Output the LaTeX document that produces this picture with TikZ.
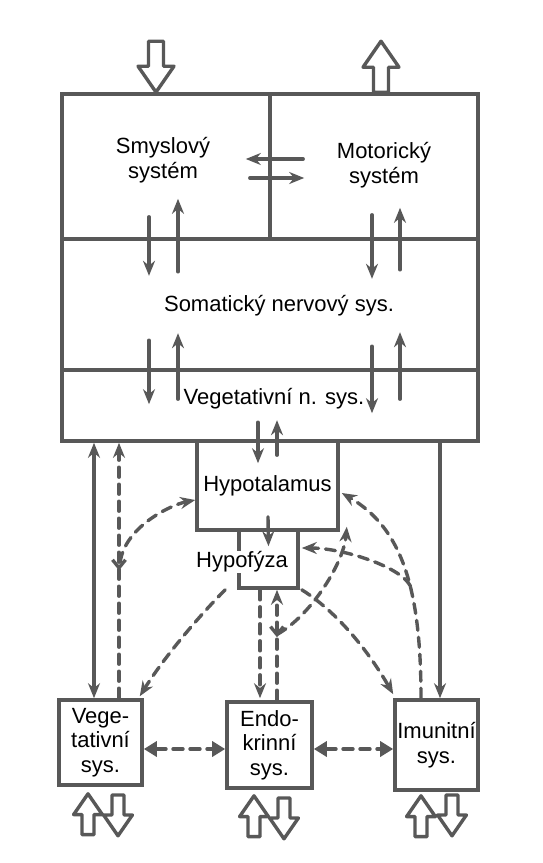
\documentclass[tikz,border=0pt]{standalone}
\usepackage{fontspec}
\setmainfont{Liberation Sans}
\usetikzlibrary{arrows.meta,decorations.markings}
\definecolor{pen}{RGB}{88,88,88}
\tikzset{
  fatdn/.pic={\path[fatn] (0,0) -- (-18,-26) -- (-7.5,-26) -- (-7.5,-51) -- (7.5,-51) -- (7.5,-26) -- (18,-26) -- cycle;},
  fatup/.pic={\path[fatn] (0,0) -- (-18,26) -- (-7.5,26) -- (-7.5,51) -- (7.5,51) -- (7.5,26) -- (18,26) -- cycle;},
  midv/.style={postaction={decorate},decoration={markings,
    mark=at position #1 with {\arrowreversed{Straight Barb[length=8pt,width=13pt]}}}}
}

\begin{document}
\begin{tikzpicture}[x=1pt,y=-1pt]%
  \tikzstyle{every node}=[font=\fontsize{22}{24.5}\selectfont,align=center]
  \tikzstyle{boxn}=[rectangle,draw=pen,line width=3.6pt,inner sep=0]
  \tikzstyle{txtn}=[rectangle,inner sep=1pt]
  \tikzstyle{arrn}=[pen,line width=3.4pt,line cap=round,line join=round,-{Stealth[length=15pt,width=12pt]}]
  \tikzstyle{dshn}=[arrn,dash pattern=on 10pt off 7pt]
  \tikzstyle{twoh}=[{Triangle[length=13pt,width=15pt]}-{Triangle[length=13pt,width=15pt]}]
  \tikzstyle{fatn}=[draw=pen,fill=white,line width=3.4pt,line join=round]
  \useasboundingbox (0,0) rectangle (543,863);
  % nervova soustava
  \node(smysl)[boxn,minimum width=208pt,minimum height=145pt] at (166,166.5) {};
  \node(motor)[boxn,minimum width=208pt,minimum height=145pt] at (374,166.5) {};
  \node(somat)[boxn,minimum width=416pt,minimum height=131pt] at (270,304.5) {};
  \node(veget)[boxn,minimum width=416pt,minimum height=71pt] at (270,405.5) {};
  \node(hypot)[boxn,minimum width=141pt,minimum height=89pt] at (267.5,485.5) {Hypotalamus};
  \node(hypof)[boxn,minimum width=59pt,minimum height=58pt] at (268.5,559) {};
  \node(vegs)[boxn,minimum width=83pt,minimum height=85pt] at (100.5,742.5) {Vege-\\tativní\\sys.};
  \node(endo)[boxn,minimum width=85pt,minimum height=86pt] at (269.5,745) {Endo-\\krinní\\sys.};
  \node(imun)[boxn,minimum width=83pt,minimum height=90pt] at (436.5,745) {Imunitní\\sys.};
  \node(tsmysl)[txtn] at (163,160) {Smyslový\\systém};
  \node(tmotor)[txtn] at (384,165) {Motorický\\systém};
  \node(tsomat)[txtn] at (279,306) {Somatický nervový sys.};
  \node(tveget)[txtn] at (274,399) {Vegetativní n. sys.};
  \node(thypof)[txtn,fill=white] at (242,562) {Hypofýza};
  % plne sipky
  \draw[arrn] ([shift={(35,-7.5)}]motor.west) -- ([shift={(-26,-7.5)}]smysl.east);
  \draw[arrn] ([shift={(-22,11.5)}]smysl.east) -- ([shift={(36,11.5)}]motor.west);
  \draw[arrn] ([shift={(-17,-24)}]smysl.south) -- ([shift={(-17,35)}]smysl.south);
  \draw[arrn] ([shift={(12,31)}]smysl.south) -- ([shift={(12,-42)}]smysl.south);
  \draw[arrn] ([shift={(-2,-26)}]motor.south) -- ([shift={(-2,38)}]motor.south);
  \draw[arrn] ([shift={(26,29)}]motor.south) -- ([shift={(26,-33)}]motor.south);
  \draw[arrn] ([shift={(-121,-28)}]veget.north) -- ([shift={(-121,36)}]veget.north);
  \draw[arrn] ([shift={(-92,31)}]veget.north) -- ([shift={(-92,-35)}]veget.north);
  \draw[arrn] ([shift={(102,-22)}]veget.north) -- ([shift={(102,45)}]veget.north);
  \draw[arrn] ([shift={(130,31)}]veget.north) -- ([shift={(130,-36)}]veget.north);
  \draw[arrn] ([shift={(-9.5,-17)}]hypot.north) -- ([shift={(-9.5,24)}]hypot.north);
  \draw[arrn] ([shift={(9.5,16)}]hypot.north) -- ([shift={(9.5,-19)}]hypot.north);
  \draw[arrn] ([shift={(0.5,-15)}]hypot.south) -- ([shift={(0,18)}]hypof.north);
  \draw[arrn,{Stealth[length=15pt,width=12pt]}-{Stealth[length=15pt,width=12pt]}] ([shift={(-176,0)}]veget.south) -- ([shift={(-6.5,0)}]vegs.north);
  \draw[arrn] ([shift={(170,0)}]veget.south) -- ([shift={(3.5,0)}]imun.north);
  % carkovane sipky
  \draw[dshn,midv=0.5] ([shift={(18.5,0)}]vegs.north) -- ([shift={(-151,0)}]veget.south);
  \draw[dshn] ([shift={(-75,76.5)}]hypot.west) .. controls +(5,-35) and +(-25,5) .. ([shift={(0,14.5)}]hypot.west);
  \draw[dshn] ([shift={(-12,0)}]hypof.south west) .. controls +(-25,25) and +(25,-40) .. ([shift={(-4,-2)}]vegs.north east);
  \draw[dshn] ([shift={(2,0)}]hypof.south east) .. controls +(40,25) and +(-20,-35) .. ([shift={(0,-4)}]imun.north west);
  \draw[dshn] ([shift={(-8.5,0)}]hypof.south) -- ([shift={(-9.5,-2)}]endo.north);
  \draw[dshn,midv=0.57] ([shift={(7.5,0)}]endo.north) -- ([shift={(8.5,0)}]hypof.south);
  \draw[dshn] ([shift={(8,-66)}]endo.north) .. controls +(35,-20) and +(-3,35) .. ([shift={(7,-5)}]hypot.south east);
  \draw[dshn] ([shift={(-15.5,0)}]imun.north) .. controls +(0,-110) and +(60,35) .. ([shift={(2,7.5)}]hypot.east);
  \draw[dshn] ([shift={(-26,-112)}]imun.north) .. controls +(-10,-20) and +(40,0) .. ([shift={(2,-11)}]hypof.east);
  \draw[dshn,twoh] ([shift={(0,6.5)}]vegs.east) -- ([shift={(0,4)}]endo.west);
  \draw[dshn,twoh] ([shift={(0,4)}]endo.east) -- ([shift={(0,4)}]imun.west);
  % vstupy a vystupy
  \pic at ([shift={(-10,0)}]smysl.north) {fatdn};
  \pic at ([shift={(7,-51)}]motor.north) {fatup};
  \pic[scale=.8] at ([shift={(-12.5,7)}]vegs.south) {fatup};
  \pic[scale=.8] at ([shift={(17.5,49)}]vegs.south) {fatdn};
  \pic[scale=.8] at ([shift={(-15.5,6)}]endo.south) {fatup};
  \pic[scale=.8] at ([shift={(14.5,49)}]endo.south) {fatdn};
  \pic[scale=.8] at ([shift={(-15.5,4)}]imun.south) {fatup};
  \pic[scale=.8] at ([shift={(15.5,44)}]imun.south) {fatdn};
\end{tikzpicture}
\end{document}
